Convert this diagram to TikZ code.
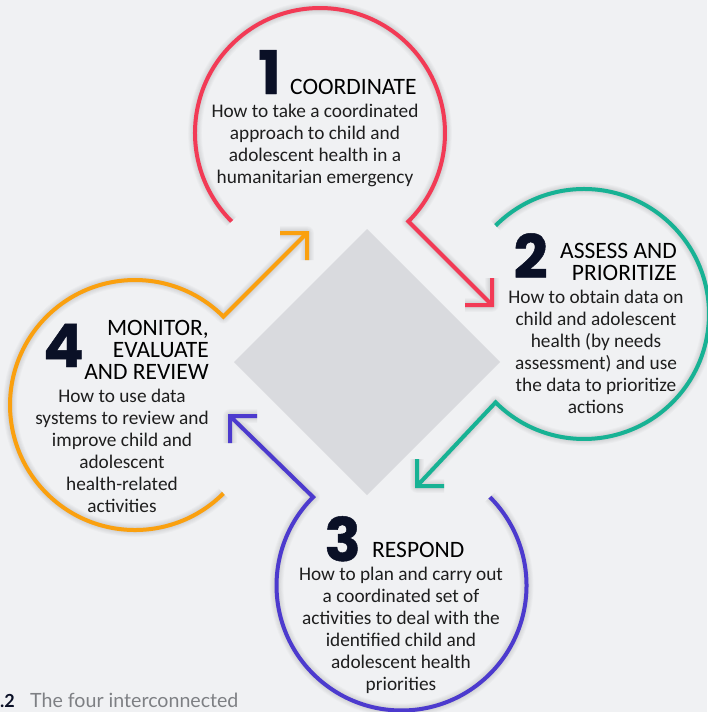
\documentclass[tikz,border=0pt]{standalone}
\usepackage{fontspec}
\setmainfont{Carlito}
\newfontfamily\numfont{Poppins}[BoldFeatures={FakeBold=0.8}]
\newfontfamily\capfont{Lato}
\definecolor{bgc}{HTML}{F0F1F3}
\definecolor{dia}{HTML}{D9DADE}
\definecolor{cred}{HTML}{F23A55}
\definecolor{cteal}{HTML}{17B294}
\definecolor{cpurp}{HTML}{4C3ACE}
\definecolor{corng}{HTML}{FAA00F}
\definecolor{navy}{HTML}{0A1026}
\definecolor{txt}{HTML}{1E1E1E}
\definecolor{capg}{HTML}{7E8084}
\tikzset{
  ring/.style={line width=4pt, line join=miter, line cap=butt},
  body/.style={font=\fontsize{19.3}{22}\selectfont, align=center, inner sep=0pt, text=txt},
  head/.style={font=\fontsize{23.5}{22}\selectfont, inner sep=0pt, text=black},
  num/.style={font=\numfont\bfseries\fontsize{60}{60}\selectfont, inner sep=0pt, text=navy},
}
\newcommand\softshade[1]{%
  \foreach \k in {1,...,6}{%
    \draw[line width=3+1.8*\k, black, opacity=0.02, line join=round, shift={(0,2.8*\k)}] #1;}}
\begin{document}
\begin{tikzpicture}[x=1pt,y=-1pt]
\useasboundingbox (0,0) rectangle (707,712);
\fill[bgc] (0,0) rectangle (707,712);
% geometry
\coordinate (c1) at (320,133);
\coordinate (c2) at (584,314);
\coordinate (c3) at (401.5,585.5);
\coordinate (c4) at (135,405);
\coordinate (a1) at (231.6,221.4);
\coordinate (t1) at (492,305);
\coordinate (t1a) at (492,278);
\coordinate (t1b) at (465,305);
\coordinate (a2) at (495.6,225.6);
\coordinate (t2) at (417,486);
\coordinate (t2a) at (417,459);
\coordinate (t2b) at (444,486);
\coordinate (a3) at (489.9,497.1);
\coordinate (t3) at (230,416);
\coordinate (t3a) at (257,416);
\coordinate (t3b) at (230,443);
\coordinate (a4) at (223.4,493.4);
\coordinate (t4) at (307,233);
\coordinate (t4a) at (280,233);
\coordinate (t4b) at (307,260);
% shadows
\softshade{(a1) arc[start angle=135,end angle=405,radius=125] -- (t1) (t1a) -- (t1) -- (t1b)}
\softshade{(a2) arc[start angle=225,end angle=495,radius=125] -- (t2) (t2a) -- (t2) -- (t2b)}
\softshade{(a3) arc[start angle=315,end angle=585,radius=125] -- (t3) (t3a) -- (t3) -- (t3b)}
\softshade{(a4) arc[start angle=45,end angle=315,radius=125] -- (t4) (t4a) -- (t4) -- (t4b)}
% diamond
\fill[dia] (367,229) -- (500,362) -- (367,495) -- (234,362) -- cycle;
% rings
\draw[ring, cred] (a1) arc[start angle=135,end angle=405,radius=125] -- (t1) (t1a) -- (t1) -- (t1b);
\draw[ring, cteal] (a2) arc[start angle=225,end angle=495,radius=125] -- (t2) (t2a) -- (t2) -- (t2b);
\draw[ring, cpurp] (a3) arc[start angle=315,end angle=585,radius=125] -- (t3) (t3a) -- (t3) -- (t3b);
\draw[ring, corng] (a4) arc[start angle=45,end angle=315,radius=125] -- (t4) (t4a) -- (t4) -- (t4b);
% circle 1
\node[num, anchor=base east] (n1) at (281,94) {1};
\node[head, anchor=base west] (h1) at (290,94) {COORDINATE};
\node[body, anchor=base] (b1) at (315,183) {How to take a coordinated\\approach to child and\\adolescent health in a\\humanitarian emergency};
% circle 2
\node[num, anchor=base east] (n2) at (548,278) {2};
\node[head, align=right, anchor=base east] (h2) at (677,280) {ASSESS AND\\PRIORITIZE};
\node[body, anchor=base] (b2) at (596,413) {How to obtain data on\\child and adolescent\\health (by needs\\assessment) and use\\the data to prioritize\\actions};
% circle 3
\node[num, anchor=base east] (n3) at (361,561) {3};
\node[head, anchor=base west] (h3) at (372,557) {RESPOND};
\node[body, anchor=base] (b3) at (401,690) {How to plan and carry out\\a coordinated set of\\activities to deal with the\\identified child and\\adolescent health\\priorities};
% circle 4
\node[num, anchor=base east] (n4) at (84,367) {4};
\node[head, align=right, anchor=base east] (h4) at (209,379) {MONITOR,\\EVALUATE\\AND REVIEW};
\node[body, anchor=base] (b4) at (122,512) {How to use data\\systems to review and\\improve child and\\adolescent\\health-related\\activities};
% caption
\node[font=\capfont\bfseries\fontsize{18}{20}\selectfont, text=navy, inner sep=0pt, anchor=base west] (cap0) at (0,707) {.2};
\node[font=\capfont\fontsize{19.6}{20}\selectfont, text=capg, inner sep=0pt, anchor=base west] (cap1) at (30,707) {The four interconnected};
\end{tikzpicture}
\end{document}
